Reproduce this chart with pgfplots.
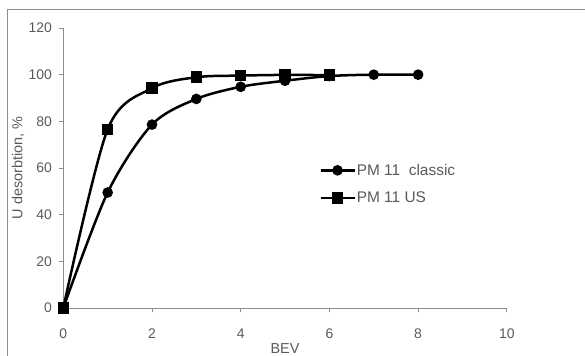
\documentclass[border=0pt]{standalone}
\usepackage{pgfplots}
\pgfplotsset{compat=1.18}
\usepackage{fontspec}
\setmainfont{Liberation Sans}
\definecolor{txt}{HTML}{5A5A5A}
\definecolor{axc}{HTML}{8C8C8C}
\begin{document}
\begin{tikzpicture}
\path[use as bounding box] (0bp,0bp) rectangle (585bp,356bp);
\draw[axc,line width=1bp] (7bp,0bp) -- (7bp,346bp) -- (585bp,346bp);
\begin{axis}[
  at={(63.3bp,48bp)}, anchor=south west,
  scale only axis, width=443.5bp, height=280bp,
  xmin=0, xmax=10, ymin=0, ymax=120,
  xtick={0,2,...,10}, ytick={0,20,...,120},
  axis x line*=bottom, axis y line*=left,
  axis line style={axc,line width=0.8bp,-},
  tick style={axc,line width=0.8bp},
  tick align=outside, major tick length=4bp,
  /pgf/number format/assume math mode=true,
  ticklabel style={font=\fontsize{14}{15}\selectfont, text=txt},
  xticklabel style={yshift=-13bp},
  yticklabel style={xshift=-4bp},
  xlabel={BEV}, ylabel={U desorbtion, \%},
  every axis x label/.style={at={(axis description cs:0.5,-0.143)}, anchor=center, font=\fontsize{14.5}{16}\selectfont, text=txt},
  every axis y label/.style={at={(axis description cs:-0.102,0.5)}, rotate=90, anchor=center, font=\fontsize{14.5}{16}\selectfont, text=txt},
  legend style={draw=none, fill=none, at={(0.57,0.443)}, anchor=west,
    font=\fontsize{15.5}{17}\selectfont, text=txt, row sep=11bp,
    nodes={inner xsep=1bp}},
  legend cell align=left,
  legend image code/.code={\draw[mark repeat=2,mark phase=2,#1] plot coordinates {(0bp,0bp) (17bp,0bp) (34bp,0bp)};},
  clip=false,
]
\addplot[black, line width=2.5bp, smooth, tension=0.5, mark=*, mark size=4bp, mark options={solid,fill=black}]
  coordinates {(0,0)(1,49.5)(2,78.6)(3,89.6)(4,94.8)(5,97.4)(6,99.4)(7,100)(8,100)};
\addlegendentry{PM 11\ \ classic}
\addplot[black, line width=2.5bp, smooth, tension=0.5, mark=square*, mark size=4.5bp, mark options={solid,fill=black}]
  coordinates {(0,0)(1,76.6)(2,94.2)(3,98.9)(4,99.6)(5,99.9)(6,99.8)};
\addlegendentry{PM 11 US}
\end{axis}
\end{tikzpicture}
\end{document}
